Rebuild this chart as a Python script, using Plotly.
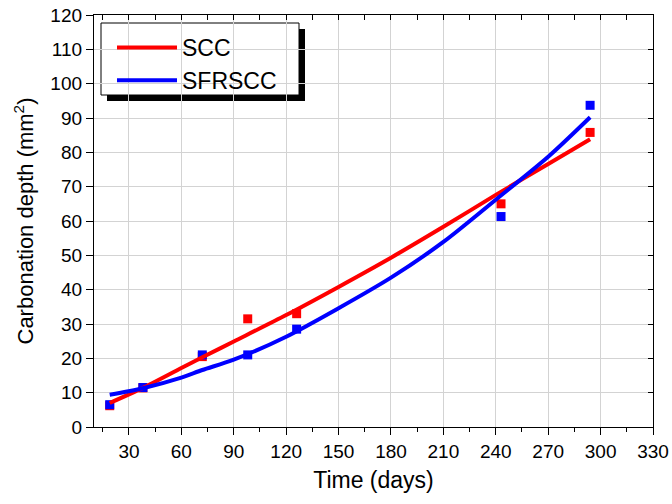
import plotly.graph_objects as go

# measured data
days = [19, 38, 72, 98, 126, 243, 294]
scc_depth = [6.2, 11.4, 20.5, 31.5, 33.0, 65.0, 85.8]
sfrscc_depth = [6.5, 11.5, 21.0, 21.0, 28.5, 61.3, 93.7]

# fitted curves
fit_days = [19, 38, 60, 72, 90, 120, 150, 180, 210, 240, 270, 294]
scc_fit = [7.0, 11.4, 17.2, 20.3, 24.9, 32.6, 40.8, 49.3, 58.3, 67.6, 76.6, 83.8]
sfrscc_fit = [9.4, 11.3, 14.4, 16.6, 19.6, 26.3, 34.6, 43.5, 53.9, 66.2, 78.7, 90.2]

x_ticks = [30, 60, 90, 120, 150, 180, 210, 240, 270, 300, 330]
y_ticks = [0, 10, 20, 30, 40, 50, 60, 70, 80, 90, 100, 110, 120]

RED = "#ff0000"
BLUE = "#0000ff"
FONT = "Liberation Sans, Arial, sans-serif"

# plot-area geometry in pixels (for the legend box)
L, R, T, B = 94, 653, 15, 427
W, H = R - L, B - T


def px(x):
    return (x - L) / W


def py(y):
    return (B - y) / H


fig = go.Figure()
fig.add_trace(go.Scatter(x=days, y=scc_depth, mode="markers", showlegend=False,
                         marker=dict(symbol="square", size=9, color=RED)))
fig.add_trace(go.Scatter(x=days, y=sfrscc_depth, mode="markers", showlegend=False,
                         marker=dict(symbol="square", size=9, color=BLUE)))
fig.add_trace(go.Scatter(x=fit_days, y=scc_fit, mode="lines", name="SCC",
                         line=dict(color=RED, width=4, shape="spline", smoothing=0.8)))
fig.add_trace(go.Scatter(x=fit_days, y=sfrscc_fit, mode="lines", name="SFRSCC",
                         line=dict(color=BLUE, width=4, shape="spline", smoothing=0.8)))
# invisible trace to carry the mirrored axes
fig.add_trace(go.Scatter(x=[100], y=[50], xaxis="x2", yaxis="y2", mode="markers",
                         marker=dict(opacity=0), showlegend=False, hoverinfo="skip"))

fig.update_layout(
    width=672, height=504,
    margin=dict(l=L, r=672 - R, t=T, b=504 - B),
    paper_bgcolor="white", plot_bgcolor="white",
    font=dict(family=FONT, color="black"),
    xaxis=dict(range=[10, 330], tickvals=x_ticks, ticks="outside", ticklen=7,
               tickcolor="black", linecolor="black", linewidth=1.3, automargin=False,
               showgrid=True, gridcolor="#d3d3d3", gridwidth=1, zeroline=False,
               tickfont=dict(size=19, family=FONT),
               minor=dict(dtick=15, tick0=0, ticks="outside", ticklen=4, tickcolor="black", showgrid=False),
               title=dict(text="Time (days)", font=dict(size=23, family=FONT), standoff=10)),
    yaxis=dict(range=[0, 120], tickvals=y_ticks, ticks="outside", ticklen=7,
               tickcolor="black", linecolor="black", linewidth=1.3, automargin=False,
               showgrid=True, gridcolor="#d3d3d3", gridwidth=1, zeroline=False,
               tickfont=dict(size=19, family=FONT),
               title=dict(text="Carbonation depth (mm<sup>2</sup>)", font=dict(size=22, family=FONT), standoff=10)),
    xaxis2=dict(overlaying="x", side="top", range=[10, 330], dtick=15, tick0=0,
                ticks="inside", ticklen=5, tickcolor="black", showticklabels=False, automargin=False,
                showgrid=False, zeroline=False, showline=True, linecolor="black", linewidth=1.3),
    yaxis2=dict(overlaying="y", side="right", range=[0, 120], dtick=10,
                ticks="inside", ticklen=5, tickcolor="black", showticklabels=False, automargin=False,
                showgrid=False, zeroline=False, showline=True, linecolor="black", linewidth=1.3),
    legend=dict(x=px(112), y=py(26), xanchor="left", yanchor="top",
                bgcolor="rgba(0,0,0,0)", borderwidth=0,
                font=dict(size=23, family=FONT), itemwidth=60),
    shapes=[
        dict(type="rect", xref="paper", yref="paper", layer="between",
             x0=px(107), x1=px(305), y0=py(101), y1=py(29),
             fillcolor="black", line=dict(width=0)),
        dict(type="rect", xref="paper", yref="paper", layer="between",
             x0=px(101), x1=px(299), y0=py(95), y1=py(23),
             fillcolor="white", line=dict(color="black", width=1)),
    ],
)

fig.write_html("out.html", config={"displayModeBar": False},
               post_script="document.body.style.margin='0';")
